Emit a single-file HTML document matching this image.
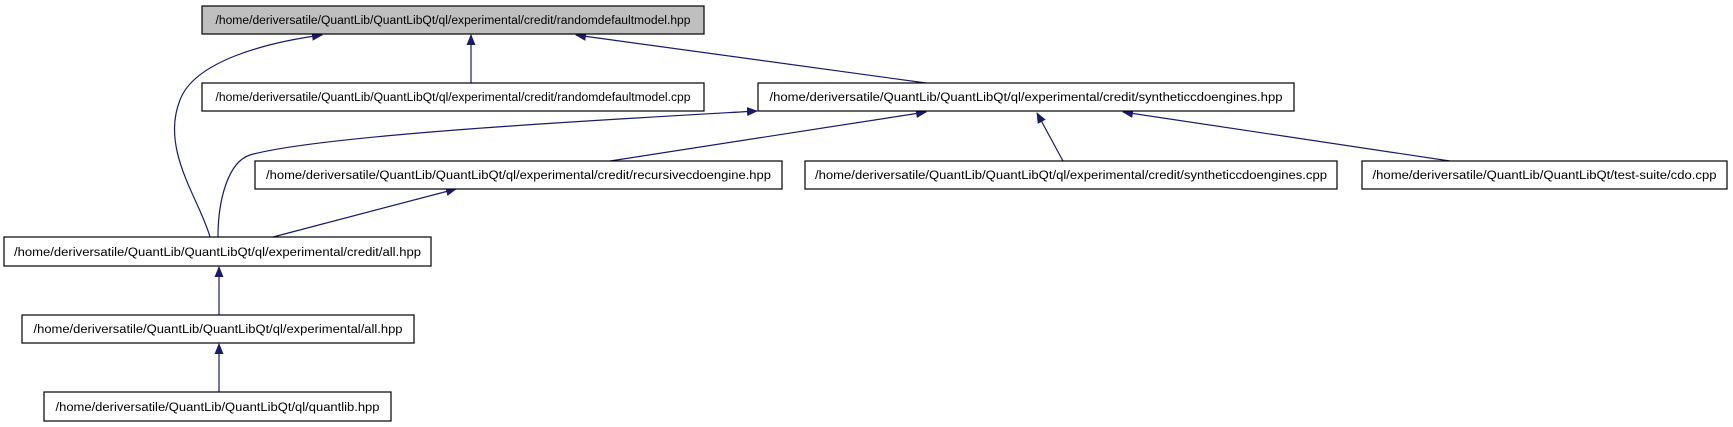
<!DOCTYPE html>
<html><head><meta charset="utf-8"><style>
html,body{margin:0;padding:0;background:#fff;}
svg{display:block;}
text{font-family:"Liberation Sans",sans-serif;font-size:11.5px;fill:#000;}
</style></head><body>
<svg width="1733" height="427" viewBox="0 0 1733 427" xmlns="http://www.w3.org/2000/svg">
<defs>
<marker id="a" markerWidth="11" markerHeight="9" refX="10" refY="4.5" orient="auto" markerUnits="userSpaceOnUse">
<path d="M0,0 L11,4.5 L0,9 Z" fill="#191970"/>
</marker>
</defs>
<g fill="none" stroke="#191970" stroke-width="1.2">
<path d="M210,237 C200,200 160,150 180,100 C195,60 270,42 322,35" marker-end="url(#a)"/>
<path d="M471,83 L471,35" marker-end="url(#a)"/>
<path d="M926,83 L576,35" marker-end="url(#a)"/>
<path d="M218,237 C218,200 228,162 250,155 C320,135 600,120 757,111" marker-end="url(#a)"/>
<path d="M610,161 L926,112" marker-end="url(#a)"/>
<path d="M1063,161 L1037,113" marker-end="url(#a)"/>
<path d="M1450,161 L1123,112" marker-end="url(#a)"/>
<path d="M273,237 L456,189" marker-end="url(#a)"/>
<path d="M219,315 L219,267" marker-end="url(#a)"/>
<path d="M219,392 L219,344" marker-end="url(#a)"/>
</g>
<g stroke="#000" stroke-width="1.2">
<rect x="202" y="6" width="502" height="28" fill="#bfbfbf"/>
<rect x="202" y="83" width="502" height="28" fill="#fff"/>
<rect x="758" y="83" width="536" height="28" fill="#fff"/>
<rect x="255" y="161" width="527" height="28" fill="#fff"/>
<rect x="805" y="161" width="532" height="28" fill="#fff"/>
<rect x="1362" y="161" width="365" height="28" fill="#fff"/>
<rect x="4" y="237" width="427" height="29" fill="#fff"/>
<rect x="22" y="315" width="392" height="28" fill="#fff"/>
<rect x="44" y="392" width="347" height="29" fill="#fff"/>
</g>
<g text-anchor="middle">
<text x="453" y="24" textLength="475" lengthAdjust="spacingAndGlyphs">/home/deriversatile/QuantLib/QuantLibQt/ql/experimental/credit/randomdefaultmodel.hpp</text>
<text x="453" y="101" textLength="475" lengthAdjust="spacingAndGlyphs">/home/deriversatile/QuantLib/QuantLibQt/ql/experimental/credit/randomdefaultmodel.cpp</text>
<text x="1026" y="101" textLength="513" lengthAdjust="spacingAndGlyphs">/home/deriversatile/QuantLib/QuantLibQt/ql/experimental/credit/syntheticcdoengines.hpp</text>
<text x="518.5" y="179" textLength="505" lengthAdjust="spacingAndGlyphs">/home/deriversatile/QuantLib/QuantLibQt/ql/experimental/credit/recursivecdoengine.hpp</text>
<text x="1071" y="179" textLength="512" lengthAdjust="spacingAndGlyphs">/home/deriversatile/QuantLib/QuantLibQt/ql/experimental/credit/syntheticcdoengines.cpp</text>
<text x="1544.5" y="179" textLength="344" lengthAdjust="spacingAndGlyphs">/home/deriversatile/QuantLib/QuantLibQt/test-suite/cdo.cpp</text>
<text x="217.5" y="256" textLength="407" lengthAdjust="spacingAndGlyphs">/home/deriversatile/QuantLib/QuantLibQt/ql/experimental/credit/all.hpp</text>
<text x="218" y="333" textLength="369" lengthAdjust="spacingAndGlyphs">/home/deriversatile/QuantLib/QuantLibQt/ql/experimental/all.hpp</text>
<text x="217.5" y="411" textLength="324" lengthAdjust="spacingAndGlyphs">/home/deriversatile/QuantLib/QuantLibQt/ql/quantlib.hpp</text>
</g>
</svg>
</body></html>
